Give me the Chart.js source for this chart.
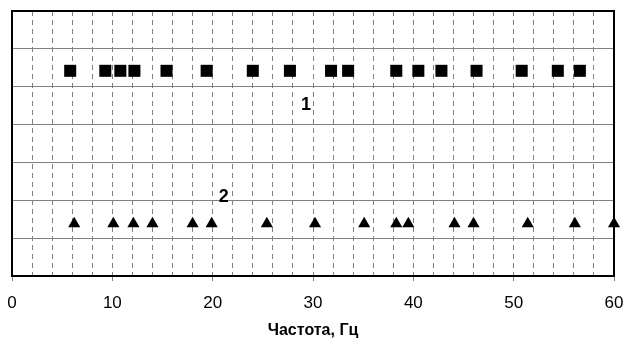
<!DOCTYPE html>
<html>
<head>
<meta charset="utf-8">
<script src="https://cdn.jsdelivr.net/npm/chart.js@4.4.0/dist/chart.umd.min.js"></script>
<style>
  html, body { margin: 0; padding: 0; background: #fff; }
  #wrap { width: 626px; height: 339px; }
</style>
</head>
<body>
<div id="wrap"><canvas id="chart"></canvas></div>
<script>
// частоты (Гц) для ряда 1 (квадраты) и ряда 2 (треугольники)
const freq1 = [5.8, 9.3, 10.8, 12.2, 15.4, 19.4, 24.0, 27.7, 31.8, 33.5, 38.3, 40.5, 42.8, 46.3, 50.8, 54.4, 56.6];
const level1 = 5.42;
const freq2 = [6.2, 10.1, 12.1, 14.0, 18.0, 19.9, 25.4, 30.2, 35.1, 38.3, 39.5, 44.1, 46.0, 51.4, 56.1, 60.0];
const level2 = 1.38;
const xTicks = [0, 10, 20, 30, 40, 50, 60];
const curveLabels = [
    { text: "1", x: 29.3, y: 4.52 },
    { text: "2", x: 21.1, y: 2.09 }
];

const FONT = "'Liberation Sans', Arial, sans-serif";

const frame = {
    id: "frame",
    beforeDatasetsDraw(chart) {
        const { ctx, chartArea: a } = chart;
        ctx.save();
        ctx.strokeStyle = "#000";
        ctx.lineWidth = 2;
        ctx.strokeRect(a.left, a.top, a.right - a.left, a.bottom - a.top);
        ctx.restore();
    },
    afterDatasetsDraw(chart) {
        const { ctx, scales } = chart;
        ctx.save();
        ctx.fillStyle = "#000";
        ctx.font = "bold 18px " + FONT;
        ctx.textAlign = "center";
        ctx.textBaseline = "middle";
        curveLabels.forEach(l => {
            ctx.fillText(l.text, scales.x.getPixelForValue(l.x), scales.y.getPixelForValue(l.y));
        });
        ctx.restore();
    }
};

new Chart(document.getElementById("chart"), {
    type: "scatter",
    data: {
        datasets: [
            {
                data: freq1.map(f => ({ x: f, y: level1 })),
                pointStyle: "rect",
                pointRadius: 8.5,
                backgroundColor: "#000",
                borderColor: "#000",
                borderWidth: 0,
                clip: false
            },
            {
                data: freq2.map(f => ({ x: f, y: level2 })),
                pointStyle: "triangle",
                pointRadius: 7,
                backgroundColor: "#000",
                borderColor: "#000",
                borderWidth: 0,
                clip: false
            }
        ]
    },
    options: {
        responsive: true,
        maintainAspectRatio: false,
        animation: false,
        layout: {
            padding: { left: 12, right: 12, top: 11, bottom: 0 }
        },
        plugins: {
            legend: { display: false },
            tooltip: { enabled: false }
        },
        scales: {
            x: {
                type: "linear",
                min: 0,
                max: 60,
                afterFit(scale) {
                    scale.paddingLeft = 0;
                    scale.paddingRight = 0;
                    scale.height = 63;
                },
                ticks: {
                    stepSize: 2,
                    autoSkip: false,
                    maxRotation: 0,
                    color: "#000",
                    font: { family: FONT, size: 17 },
                    padding: 12,
                    callback: v => xTicks.includes(v) ? String(v) : ""
                },
                grid: {
                    color: "#808080",
                    lineWidth: 1,
                    tickLength: 5,
                    tickColor: ctx => (ctx.tick && xTicks.includes(ctx.tick.value)) ? "#808080" : "rgba(0,0,0,0)"
                },
                border: { display: false, dash: [5, 4] },
                title: {
                    display: true,
                    text: "Частота, Гц",
                    color: "#000",
                    font: { family: FONT, size: 16, weight: "bold" },
                    padding: { top: 4, bottom: -1 }
                }
            },
            y: {
                min: 0,
                max: 7,
                afterFit(scale) {
                    scale.width = 0;
                    scale.paddingTop = 0;
                    scale.paddingBottom = 0;
                },
                ticks: { stepSize: 1, display: false },
                grid: { color: "#808080", lineWidth: 1, drawTicks: false },
                border: { display: false }
            }
        }
    },
    plugins: [frame]
});
</script>
</body>
</html>
